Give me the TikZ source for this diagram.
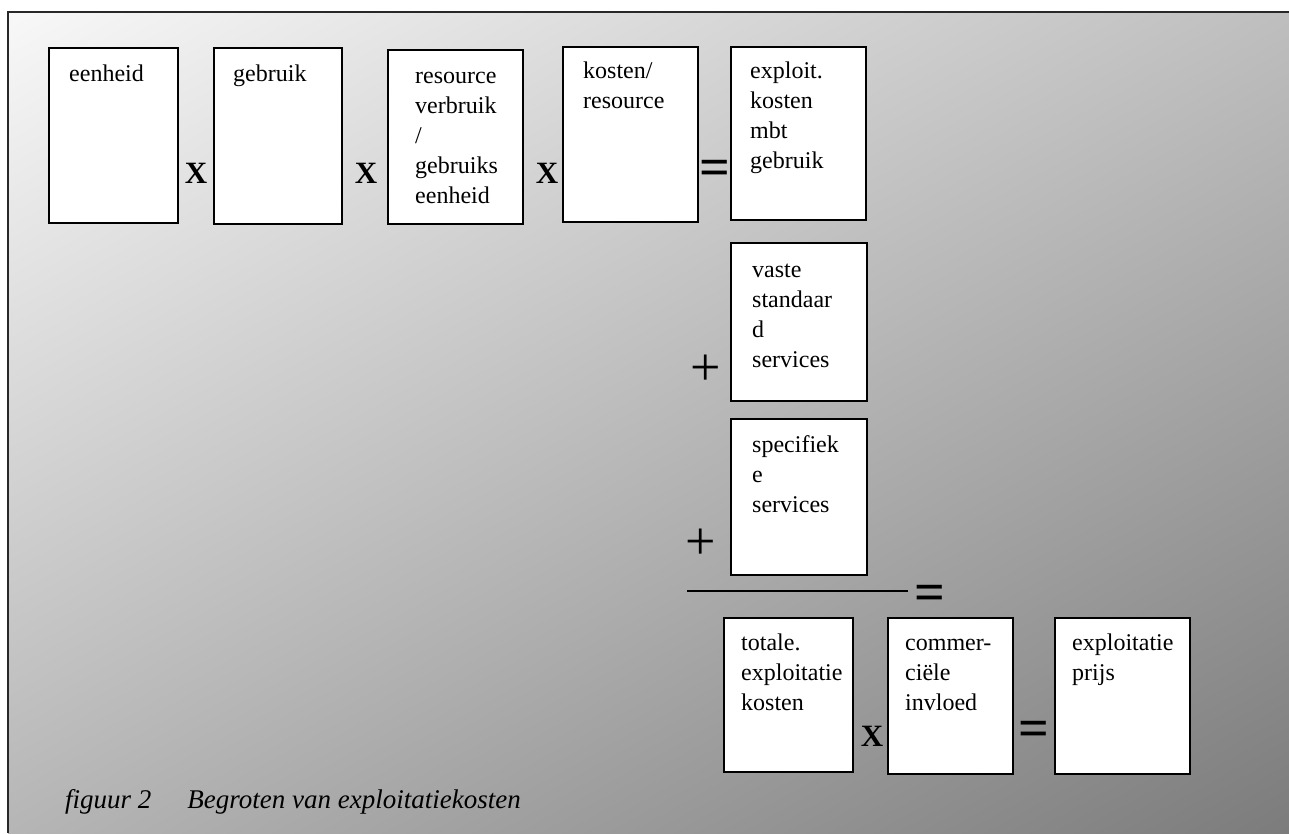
\documentclass[tikz,border=0pt]{standalone}
\usepackage{fontspec}
\setmainfont{Liberation Serif}
\definecolor{bgA}{RGB}{249,249,249}
\definecolor{bgB}{RGB}{124,124,124}
\definecolor{frameC}{RGB}{40,40,40}
\newcommand{\tstrut}{\rule{0pt}{20pt}}
\begin{document}
\begin{tikzpicture}[x=1pt,y=-1pt,
  box/.style={draw=black, line width=1.6pt, fill=white, inner sep=0pt, anchor=north west},
  lbl/.style={anchor=north west, inner sep=0pt, align=left, font=\fontsize{24}{30}\selectfont},
  opx/.style={anchor=base, inner sep=0pt, font=\bfseries\fontsize{31}{31}\selectfont},
  opeq/.style={anchor=base, inner sep=0pt, font=\bfseries\fontsize{54}{54}\selectfont},
  opplus/.style={anchor=base, inner sep=0pt, font=\fontsize{54}{54}\selectfont},
  bar/.style={draw=black, line width=1.5pt},
]
\useasboundingbox (0,0) rectangle (1289,833);
\fill[white] (0,0) rectangle (1289,833);
\begin{scope}
  \clip (8,12) rectangle (1289,833);
  \shade[top color=bgA, bottom color=bgB, shading angle=29] (-32.5,-260.5) rectangle (1321.5,1093.5);
\end{scope}
\draw[frameC, line width=2pt] (8,833) -- (8,12) -- (1289,12);

% boxes
\node[box, minimum width=129pt, minimum height=175pt] (b1) at (48,47) {};
\node[box, minimum width=128pt, minimum height=176pt] (b2) at (213,47) {};
\node[box, minimum width=135pt, minimum height=174pt] (b3) at (387,49) {};
\node[box, minimum width=135pt, minimum height=175pt] (b4) at (562,46) {};
\node[box, minimum width=135pt, minimum height=173pt] (b5) at (730,46) {};
\node[box, minimum width=136pt, minimum height=158pt] (b6) at (730,242) {};
\node[box, minimum width=136pt, minimum height=156pt] (b7) at (730,418) {};
\node[box, minimum width=129pt, minimum height=154pt] (b8) at (723,617) {};
\node[box, minimum width=125pt, minimum height=156pt] (b9) at (887,617) {};
\node[box, minimum width=135pt, minimum height=156pt] (b10) at (1054,617) {};

% labels (first baseline = y + 20)
\node[lbl] (t1) at (69,61) {\tstrut eenheid};
\node[lbl] (t2) at (233,61) {\tstrut gebruik};
\node[lbl] (t3) at (415,63) {\tstrut resource\\verbruik\\/\\gebruiks\\eenheid};
\node[lbl] (t4) at (583,58) {\tstrut kosten/\\resource};
\node[lbl] (t5) at (750,58) {\tstrut exploit.\\kosten\\mbt\\gebruik};
\node[lbl] (t6) at (752,257) {\tstrut vaste\\standaar\\d\\services};
\node[lbl] (t7) at (752,432) {\tstrut specifiek\\e\\services};
\node[lbl] (t8) at (741,630) {\tstrut totale.\\exploitatie\\kosten};
\node[lbl] (t9) at (905,630) {\tstrut commer-\\ciële\\invloed};
\node[lbl] (t10) at (1072,630) {\tstrut exploitatie\\prijs};

% operators
\node[opx] (x1) at (196,183) {X};
\node[opx] (x2) at (366,183) {X};
\node[opx] (x3) at (547,183) {X};
\node[opeq] (e1) at (715,185) {=};
\node[opplus] (p1) at (706,385) {+};
\node[opplus] (p2) at (701,559) {+};
\node[opeq] (e2) at (930,610) {=};
\node[opx] (x4) at (872,746) {X};
\node[opeq] (e3) at (1034,746) {=};

% fraction bar
\coordinate (barL) at (687,591);
\coordinate (barR) at (908,591);
\draw[bar] (barL) -- (barR);

% caption
\node[anchor=base west, inner sep=0pt, font=\itshape\fontsize{27}{30}\selectfont] (cap) at (65,808) {figuur 2\hspace{36pt}Begroten van exploitatiekosten};
\end{tikzpicture}
\end{document}
